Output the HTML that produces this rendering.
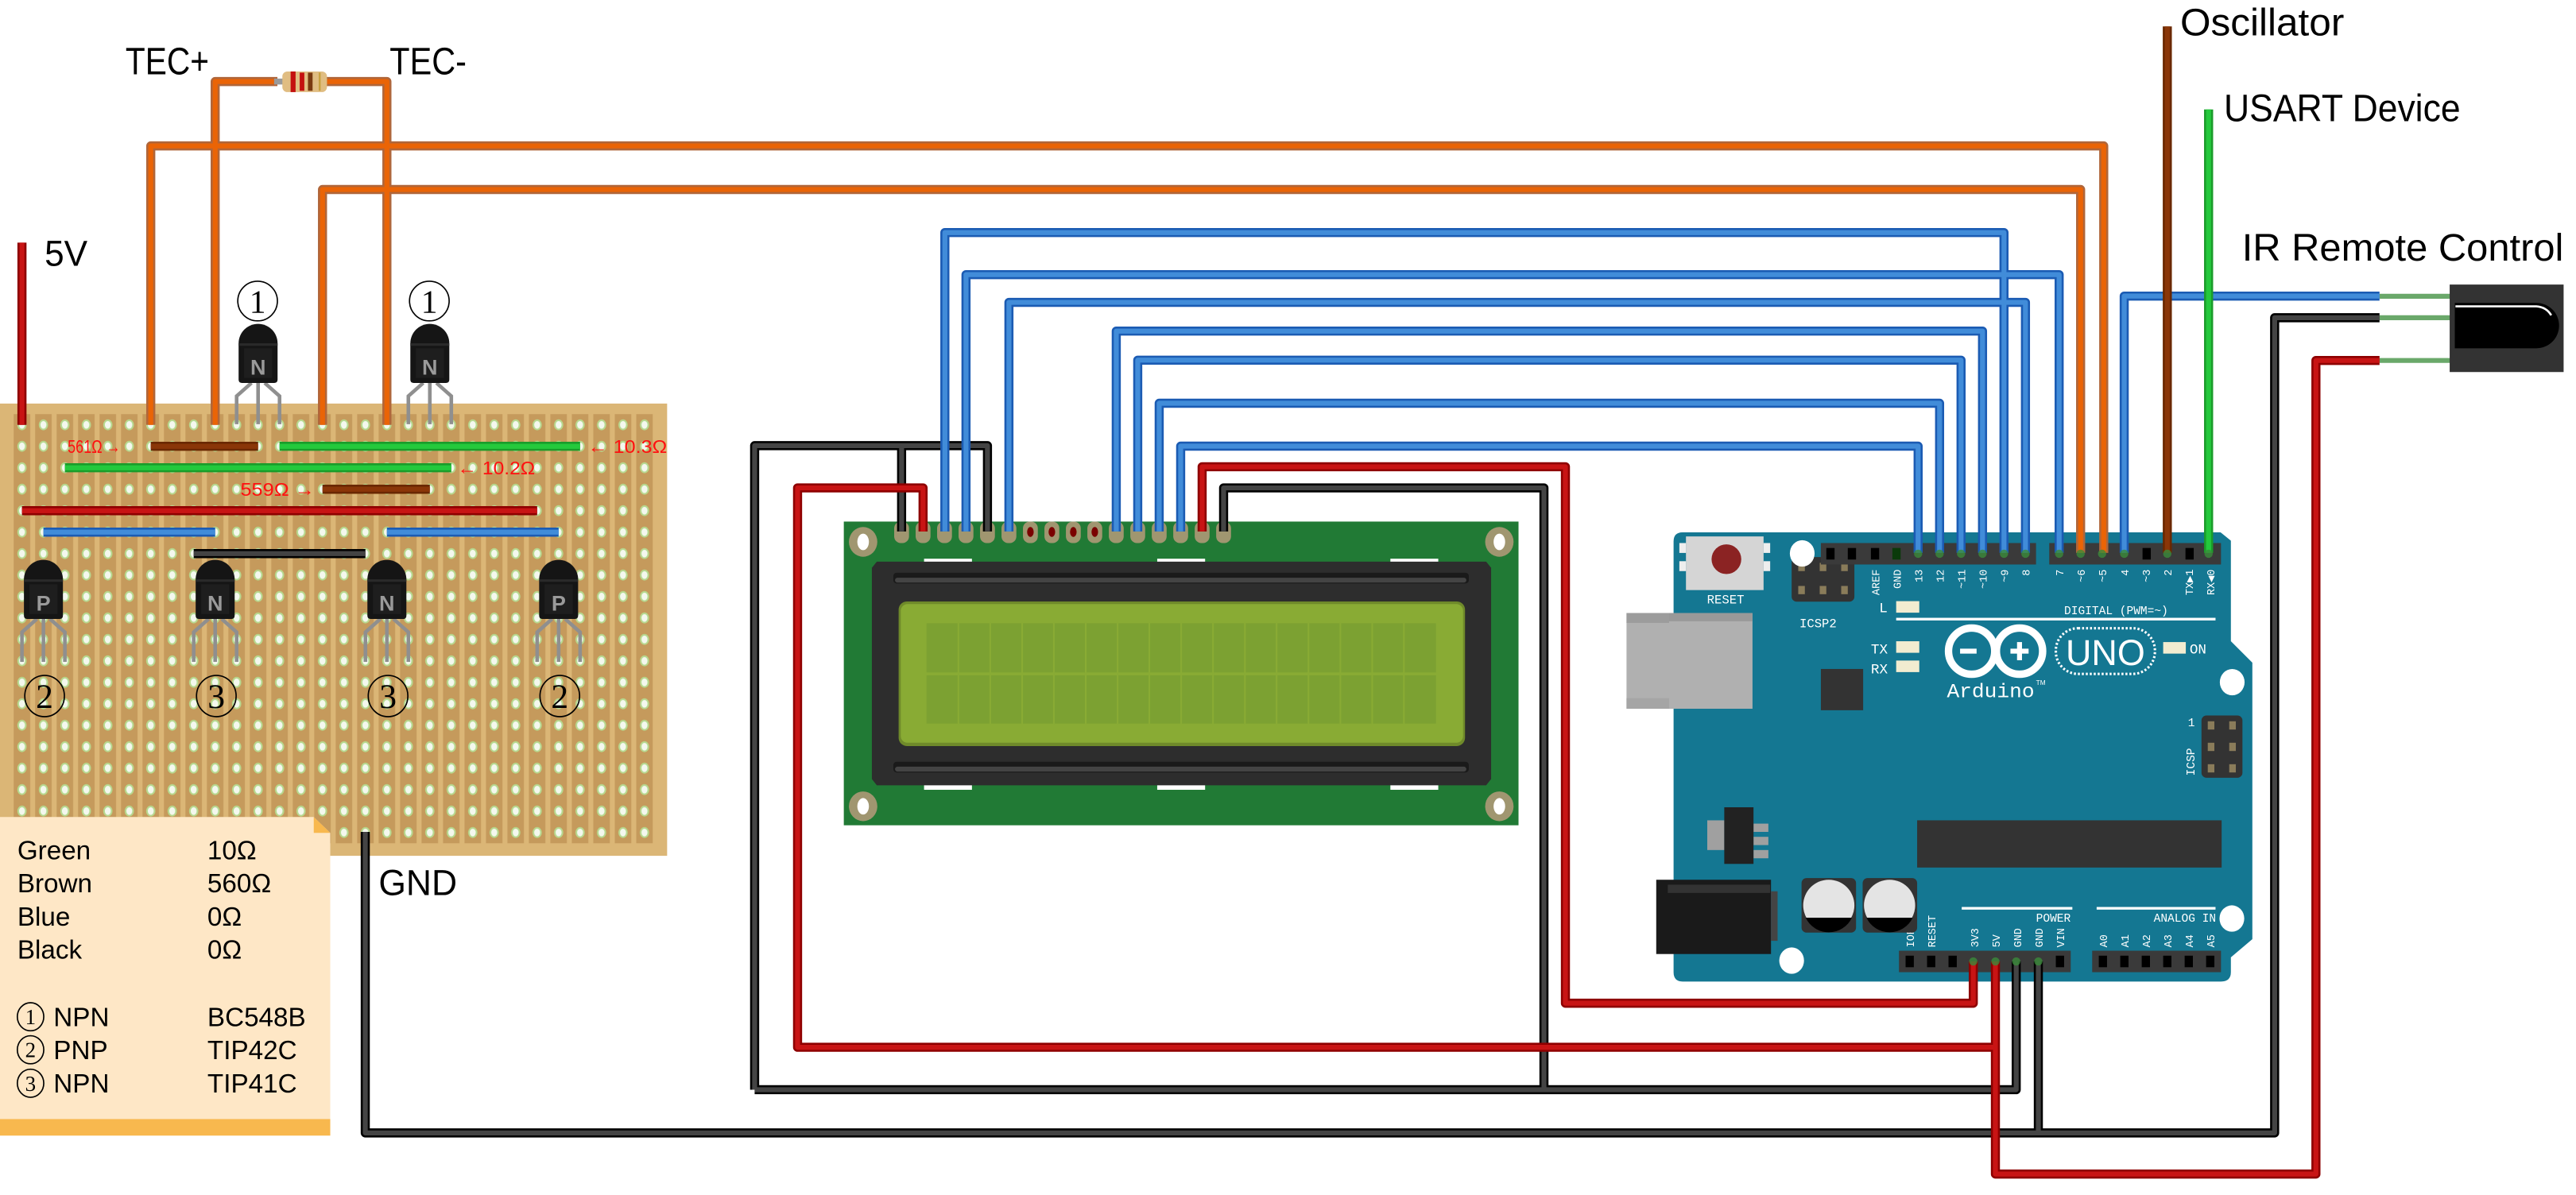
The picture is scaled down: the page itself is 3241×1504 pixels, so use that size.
<!DOCTYPE html>
<html><head><meta charset="utf-8"><style>html,body{margin:0;padding:0;background:#fff}svg{display:block}</style></head>
<body>
<svg width="3241" height="1504" viewBox="0 0 1560 724" preserveAspectRatio="none" xmlns="http://www.w3.org/2000/svg" font-family="Liberation Sans, DejaVu Sans, sans-serif">
<defs>
<pattern id="holes" patternUnits="userSpaceOnUse" x="6.8" y="250.9" width="13" height="13">
<rect x="1.5" y="0" width="10" height="13" fill="#c59a5c"/>
<ellipse cx="6.5" cy="6.5" rx="2.8" ry="3.3" fill="#b7d98f"/>
<ellipse cx="6.5" cy="6.5" rx="1.8" ry="2.3" fill="#f4f8ee"/>
</pattern>
<g id="wBlue" fill="none" stroke-linejoin="round">
<path d="M572.2,322 V140.9 H1213.6 V335"/>
<path d="M585,322 V166.4 H1247 V335"/>
<path d="M611,322 V183.2 H1226.6 V335"/>
<path d="M676,322 V200.6 H1200.6 V335"/>
<path d="M689,322 V218.2 H1187.6 V335"/>
<path d="M702,322 V244.3 H1174.6 V335"/>
<path d="M715,322 V270.3 H1161.6 V335"/>
<path d="M1286.4,335 V179.4 H1441"/>
<path d="M26.3,322.4 H130.3 M234.3,322.4 H338.3"/>
</g>
<g id="wOrange" fill="none" stroke-linejoin="round">
<path d="M91.3,257.4 V88.4 H1274 V335"/>
<path d="M195.3,257.4 V114.8 H1260 V335"/>
<path d="M130.3,257.4 V49.4 H168"/>
<path d="M197,49.4 H234.3 V257.4"/>
</g>
<g id="wRed" fill="none" stroke-linejoin="round">
<path d="M13.3,257.4 V147"/>
<path d="M559,322 V295.6 H483 V634.5 H1208.4"/>
<path d="M1208.4,582.5 V711.3 H1402.5 V218.4 H1441"/>
<path d="M728,322 V282.8 H948 V607.8 H1195 V582.5"/>
<path d="M13.3,309.4 H325.3"/>
</g>
<g id="wBlack" fill="none" stroke-linejoin="round">
<path d="M457,660.2 V270 H598 V322"/>
<path d="M546,270 V322"/>
<path d="M457,660.2 H1221 V582.5"/>
<path d="M741,322 V295.6 H935 V660.2"/>
<path d="M221.2,504 V686.4 H1377.5 V192.5 H1441"/>
<path d="M1234.4,582.5 V686.4"/>
<path d="M117.3,335.4 H221.3"/>
</g>
<g id="wGreen" fill="none">
<path d="M1337.5,335 V66.3"/>
<path d="M169.3,270.4 H351.3 M39.3,283.4 H273.3"/>
</g>
<g id="wBrown" fill="none">
<path d="M1312.5,335 V16"/>
<path d="M91.3,270.4 H156.3 M195.3,296.4 H260.3"/>
</g>
<g id="tr">
<path d="M-11.8,8 A11.8,11.8 0 0 1 11.8,8 V30 Q11.8,32 9.8,32 H-9.8 Q-11.8,32 -11.8,30 Z" fill="#151515"/>
<rect x="-11.8" y="8" width="23.6" height="1.5" fill="#2a2a2a"/>
<rect x="-8.5" y="11" width="17" height="18" fill="#1e1e1e"/>
</g>
<g id="legsDown" stroke="#8f8f8f" stroke-width="2.2" fill="none">
<path d="M-4,32 L-13,40 V58 M0,32 V58 M4,32 L13,40 V58"/>
</g>
</defs>

<rect x="0" y="244.5" width="404" height="274" fill="#dbb676"/>
<rect x="6.8" y="250.9" width="390" height="260" fill="url(#holes)"/>

<path d="M0,495 H190 L200,504.6 V688 H0 Z" fill="#fee7c6"/>
<path d="M190,495 L200,504.6 H190 Z" fill="#f8b84e"/>
<rect x="0" y="678" width="200" height="10" fill="#f8b84e"/>
<g font-size="16" fill="#000">
<text x="10.5" y="520.6">Green</text><text x="125.6" y="520.6">10Ω</text>
<text x="10.5" y="540.7">Brown</text><text x="125.6" y="540.7">560Ω</text>
<text x="10.5" y="560.8">Blue</text><text x="125.6" y="560.8">0Ω</text>
<text x="10.5" y="580.8">Black</text><text x="125.6" y="580.8">0Ω</text>
<text x="32.4" y="621.7">NPN</text><text x="125.6" y="621.7">BC548B</text>
<text x="32.4" y="641.8">PNP</text><text x="125.6" y="641.8">TIP42C</text>
<text x="32.4" y="662">NPN</text><text x="125.6" y="662">TIP41C</text>
</g>
<g fill="none" stroke="#000" stroke-width="0.8">
<ellipse cx="18.5" cy="616" rx="8" ry="8.5"/><ellipse cx="18.5" cy="636" rx="8" ry="8.5"/><ellipse cx="18.5" cy="656.3" rx="8" ry="8.5"/>
</g>
<g font-size="13" text-anchor="middle" font-family="Liberation Serif, serif"><text x="18.5" y="620.6">1</text><text x="18.5" y="640.6">2</text><text x="18.5" y="660.9">3</text></g>

<g><use href="#legsDown" x="26.3" y="343"/><use href="#tr" x="26.3" y="343"/></g>
<g><use href="#legsDown" x="130.3" y="343"/><use href="#tr" x="130.3" y="343"/></g>
<g><use href="#legsDown" x="234.3" y="343"/><use href="#tr" x="234.3" y="343"/></g>
<g><use href="#legsDown" x="338.3" y="343"/><use href="#tr" x="338.3" y="343"/></g>
<g font-size="13" font-weight="bold" fill="#9a9a9a" text-anchor="middle">
<text x="26.3" y="370">P</text><text x="130.3" y="370">N</text><text x="234.3" y="370">N</text><text x="338.3" y="370">P</text>
</g>
<g fill="none" stroke="#000" stroke-width="0.8">
<ellipse cx="27" cy="421.7" rx="12" ry="12.5"/><ellipse cx="131" cy="421.7" rx="12" ry="12.5"/><ellipse cx="235" cy="421.7" rx="12" ry="12.5"/><ellipse cx="339" cy="421.7" rx="12" ry="12.5"/>
</g>
<g font-size="21" text-anchor="middle" font-family="Liberation Serif, serif"><text x="27" y="429">2</text><text x="131" y="429">3</text><text x="235" y="429">3</text><text x="339" y="429">2</text></g>

<g stroke="#8f8f8f" stroke-width="2.2" fill="none">
<path d="M152.3,232 L143.3,240 V257 M156.3,232 V257 M160.3,232 L169.3,240 V257"/>
<path d="M256.3,232 L247.3,240 V257 M260.3,232 V257 M264.3,232 L273.3,240 V257"/>
</g>
<use href="#tr" x="156.3" y="200"/><use href="#tr" x="260.3" y="200"/>
<g font-size="13" font-weight="bold" fill="#9a9a9a" text-anchor="middle"><text x="156.3" y="227">N</text><text x="260.3" y="227">N</text></g>
<g fill="none" stroke="#000" stroke-width="0.8"><ellipse cx="156" cy="182.4" rx="12" ry="12"/><ellipse cx="260" cy="182.4" rx="12" ry="12"/></g>
<g font-size="20" text-anchor="middle" font-family="Liberation Serif, serif"><text x="156" y="189.5">1</text><text x="260" y="189.5">1</text></g>

<rect x="511" y="316" width="408.6" height="184" fill="#217a35"/>
<g fill="#a09670"><ellipse cx="522.7" cy="328.3" rx="8.6" ry="9"/><ellipse cx="908" cy="328.3" rx="8.6" ry="9"/><ellipse cx="522.7" cy="488.5" rx="8.6" ry="9"/><ellipse cx="908" cy="488.5" rx="8.6" ry="9"/></g>
<g fill="#fff"><ellipse cx="522.7" cy="328.3" rx="3.5" ry="5"/><ellipse cx="908" cy="328.3" rx="3.5" ry="5"/><ellipse cx="522.7" cy="488.5" rx="3.5" ry="5"/><ellipse cx="908" cy="488.5" rx="3.5" ry="5"/></g>
<g fill="#a09670">
<rect x="541.5" y="316" width="9" height="13" rx="4"/><rect x="554.5" y="316" width="9" height="13" rx="4"/><rect x="567.5" y="316" width="9" height="13" rx="4"/><rect x="580.5" y="316" width="9" height="13" rx="4"/>
<rect x="593.5" y="316" width="9" height="13" rx="4"/><rect x="606.5" y="316" width="9" height="13" rx="4"/><rect x="619.5" y="316" width="9" height="13" rx="4"/><rect x="632.5" y="316" width="9" height="13" rx="4"/>
<rect x="645.5" y="316" width="9" height="13" rx="4"/><rect x="658.5" y="316" width="9" height="13" rx="4"/><rect x="671.5" y="316" width="9" height="13" rx="4"/><rect x="684.5" y="316" width="9" height="13" rx="4"/>
<rect x="697.5" y="316" width="9" height="13" rx="4"/><rect x="710.5" y="316" width="9" height="13" rx="4"/><rect x="723.5" y="316" width="9" height="13" rx="4"/><rect x="736.5" y="316" width="9" height="13" rx="4"/>
</g>
<g fill="#7a0000"><ellipse cx="624" cy="322.3" rx="2" ry="3"/><ellipse cx="637" cy="322.3" rx="2" ry="3"/><ellipse cx="650" cy="322.3" rx="2" ry="3"/><ellipse cx="663" cy="322.3" rx="2" ry="3"/></g>
<g fill="#fff"><rect x="559.6" y="338.5" width="29" height="3"/><rect x="700.8" y="338.5" width="29" height="3"/><rect x="842" y="338.5" width="29" height="3"/>
<rect x="559.6" y="475.5" width="29" height="3"/><rect x="700.8" y="475.5" width="29" height="3"/><rect x="842" y="475.5" width="29" height="3"/></g>
<path d="M531,340.3 H900 L903,344 V472 L900,475.8 H531 L528,472 V344 Z" fill="#2d2d2d"/>
<rect x="541" y="347" width="348.5" height="6.5" rx="2" fill="#1a1a1a"/><rect x="542" y="350" width="346" height="3" rx="1.5" fill="#444"/>
<rect x="541" y="461.5" width="348.5" height="6.5" rx="2" fill="#1a1a1a"/><rect x="542" y="464.5" width="346" height="3" rx="1.5" fill="#444"/>
<rect x="544.2" y="364.4" width="343" height="87.6" rx="5" fill="#6f8a2a"/>
<rect x="545.5" y="366" width="340.5" height="84" rx="4" fill="#89ab34"/>
<g fill="#7ca132">
<rect x="561.1" y="377.6" width="308.5" height="29.8"/><rect x="561.1" y="409.1" width="308.5" height="29.3"/>
</g>
<g stroke="#89ab34" stroke-width="1">
<path d="M580.4,377 V439 M599.7,377 V439 M619,377 V439 M638.2,377 V439 M657.5,377 V439 M676.8,377 V439 M696,377 V439 M715.3,377 V439 M734.6,377 V439 M753.9,377 V439 M773.1,377 V439 M792.4,377 V439 M811.7,377 V439 M831,377 V439 M850.2,377 V439"/>
</g>

<rect x="985" y="371.4" width="76.3" height="58" fill="#b0b0b0"/>
<rect x="985" y="371.4" width="76.3" height="6" fill="#9c9c9c"/>
<rect x="985" y="423" width="76.3" height="6.4" fill="#a5a5a5"/>
<path d="M1019,322.5 H1344.7 L1351,327.6 V388.5 L1364,401.5 V569 L1351,580 V589 Q1351,594.7 1345,594.7 H1019 Q1013.5,594.7 1013.5,589 V328 Q1013.5,322.5 1019,322.5 Z" fill="#147792"/>
<rect x="1010.8" y="371.4" width="50.5" height="58" fill="#b0b0b0"/>
<rect x="1010.8" y="371.4" width="50.5" height="5" fill="#999"/>
<rect x="1021" y="325" width="47" height="32.5" fill="#d5d5d5"/>
<rect x="1017" y="329" width="4" height="6" fill="#eee"/><rect x="1017" y="340" width="4" height="6" fill="#eee"/><rect x="1068" y="329" width="4" height="6" fill="#eee"/><rect x="1068" y="340" width="4" height="6" fill="#eee"/>
<circle cx="1045.5" cy="338.8" r="9" fill="#8b2323"/>
<text x="1045" y="365.5" font-size="7.5" fill="#fff" text-anchor="middle" font-family="Liberation Mono, monospace">RESET</text>
<rect x="1085" y="337.5" width="38" height="27" rx="3" fill="#333"/>
<g fill="#8a7c5a"><rect x="1089" y="341" width="4" height="5"/><rect x="1102" y="341" width="4" height="5"/><rect x="1115" y="341" width="4" height="5"/><rect x="1089" y="355" width="4" height="5"/><rect x="1102" y="355" width="4" height="5"/><rect x="1115" y="355" width="4" height="5"/></g>
<text x="1101" y="380" font-size="7.5" fill="#fff" text-anchor="middle" font-family="Liberation Mono, monospace">ICSP2</text>
<g fill="#fff"><ellipse cx="1091.4" cy="335.3" rx="7.5" ry="8"/><ellipse cx="1351.8" cy="413.3" rx="7.5" ry="8"/><ellipse cx="1351.6" cy="556.5" rx="7.5" ry="8"/><ellipse cx="1085" cy="582" rx="7.5" ry="8"/></g>
<rect x="1102.7" y="329" width="130.3" height="13" fill="#3a3a3a"/>
<rect x="1241" y="329" width="104" height="13" fill="#3a3a3a"/>
<rect x="1150" y="576" width="104" height="13" fill="#3a3a3a"/>
<rect x="1267" y="576" width="78" height="13" fill="#3a3a3a"/>
<g fill="#000">
<rect x="1106" y="332" width="5" height="7"/><rect x="1119" y="332" width="5" height="7"/><rect x="1133" y="332" width="5" height="7"/><rect x="1146" y="332" width="5" height="7" fill="#0a3a0a"/>
<rect x="1297.5" y="332" width="5" height="7"/><rect x="1323.5" y="332" width="5" height="7"/>
<rect x="1154" y="579" width="5" height="7"/><rect x="1167" y="579" width="5" height="7"/><rect x="1180" y="579" width="5" height="7"/><rect x="1245" y="579" width="5" height="7"/>
<rect x="1271" y="579" width="5" height="7"/><rect x="1284" y="579" width="5" height="7"/><rect x="1297" y="579" width="5" height="7"/><rect x="1310" y="579" width="5" height="7"/><rect x="1323" y="579" width="5" height="7"/><rect x="1336" y="579" width="5" height="7"/>
</g>
<g font-size="6.5" fill="#fff" font-family="Liberation Mono, monospace" text-anchor="end">
<text transform="translate(1138,345) rotate(-90)">AREF</text>
<text transform="translate(1151,345) rotate(-90)">GND</text>
<text transform="translate(1164,345) rotate(-90)">13</text>
<text transform="translate(1177,345) rotate(-90)">12</text>
<text transform="translate(1190,345) rotate(-90)">~11</text>
<text transform="translate(1203,345) rotate(-90)">~10</text>
<text transform="translate(1216,345) rotate(-90)">~9</text>
<text transform="translate(1229,345) rotate(-90)">8</text>
<text transform="translate(1249.5,345) rotate(-90)">7</text>
<text transform="translate(1262.5,345) rotate(-90)">~6</text>
<text transform="translate(1275.5,345) rotate(-90)">~5</text>
<text transform="translate(1289,345) rotate(-90)">4</text>
<text transform="translate(1302,345) rotate(-90)">~3</text>
<text transform="translate(1315,345) rotate(-90)">2</text>
<text transform="translate(1328,345) rotate(-90)">TX▶1</text>
<text transform="translate(1341,345) rotate(-90)">RX◀0</text>
</g>
<g font-size="6.5" fill="#fff" font-family="Liberation Mono, monospace" text-anchor="start">
<text transform="translate(1159,574) rotate(-90)">IOREF</text>
<text transform="translate(1172,574) rotate(-90)">RESET</text>
<text transform="translate(1198,574) rotate(-90)">3V3</text>
<text transform="translate(1211,574) rotate(-90)">5V</text>
<text transform="translate(1224,574) rotate(-90)">GND</text>
<text transform="translate(1237,574) rotate(-90)">GND</text>
<text transform="translate(1250,574) rotate(-90)">VIN</text>
<text transform="translate(1276,574) rotate(-90)">A0</text>
<text transform="translate(1289,574) rotate(-90)">A1</text>
<text transform="translate(1302,574) rotate(-90)">A2</text>
<text transform="translate(1315,574) rotate(-90)">A3</text>
<text transform="translate(1328,574) rotate(-90)">A4</text>
<text transform="translate(1341,574) rotate(-90)">A5</text>
</g>
<text x="1313" y="372" font-size="7" fill="#fff" text-anchor="end" font-family="Liberation Mono, monospace">DIGITAL (PWM=~)</text>
<rect x="1148.3" y="374.3" width="193.4" height="1.6" fill="#fff"/>
<text x="1254" y="558.5" font-size="7" fill="#fff" text-anchor="end" font-family="Liberation Mono, monospace">POWER</text>
<text x="1342" y="558.5" font-size="7" fill="#fff" text-anchor="end" font-family="Liberation Mono, monospace">ANALOG IN</text>
<rect x="1188" y="549.5" width="67" height="1.6" fill="#fff"/><rect x="1269.7" y="549.5" width="72" height="1.6" fill="#fff"/>
<g fill="#f2ecd0"><rect x="1148.3" y="364.2" width="14" height="7"/><rect x="1148.3" y="388.5" width="14" height="7"/><rect x="1148.3" y="400.2" width="14" height="7"/><rect x="1310" y="389" width="13.7" height="7"/></g>
<g font-size="8.5" fill="#fff" font-family="Liberation Mono, monospace"><text x="1138" y="371">L</text><text x="1133" y="396">TX</text><text x="1133" y="408">RX</text><text x="1326" y="396">ON</text></g>
<rect x="1102.7" y="405.3" width="25.6" height="25" fill="#333"/>
<g fill="none" stroke="#fff" stroke-width="4.5"><circle cx="1194" cy="394.5" r="14"/><circle cx="1223" cy="394.5" r="14"/></g>
<g fill="#fff"><rect x="1187" y="393" width="10" height="3"/><rect x="1217.5" y="393" width="11" height="3"/><rect x="1221.5" y="389" width="3" height="11"/></g>
<rect x="1245" y="380.6" width="60" height="27.7" rx="13.5" fill="none" stroke="#fff" stroke-width="1.5" stroke-dasharray="1.2 1.2"/>
<text x="1275" y="403" font-size="22" fill="#fff" text-anchor="middle" textLength="48" lengthAdjust="spacingAndGlyphs">UNO</text>
<text x="1179" y="422.5" font-size="12" fill="#fff" font-family="Liberation Mono, monospace" textLength="53" lengthAdjust="spacingAndGlyphs">Arduino</text>
<text x="1233" y="415" font-size="4" fill="#fff">TM</text>
<rect x="1333.2" y="433.5" width="24.8" height="37.7" rx="3" fill="#333"/>
<g fill="#8a7c5a"><rect x="1337" y="437" width="4" height="5"/><rect x="1350" y="437" width="4" height="5"/><rect x="1337" y="450" width="4" height="5"/><rect x="1350" y="450" width="4" height="5"/><rect x="1337" y="463" width="4" height="5"/><rect x="1350" y="463" width="4" height="5"/></g>
<text transform="translate(1329,470) rotate(-90)" font-size="7" fill="#fff" font-family="Liberation Mono, monospace">ICSP</text>
<text x="1325" y="440" font-size="7" fill="#fff" font-family="Liberation Mono, monospace">1</text>
<rect x="1161" y="497" width="184.4" height="28.6" fill="#333"/>
<rect x="1033.9" y="497" width="10.3" height="18" fill="#a0a0a0"/>
<g fill="#a0a0a0"><rect x="1061.9" y="499" width="9" height="5"/><rect x="1061.9" y="507" width="9" height="5"/><rect x="1061.9" y="515" width="9" height="5"/></g>
<rect x="1044.2" y="489.1" width="17.7" height="34.3" fill="#222"/>
<rect x="1003" y="533" width="69.5" height="45" fill="#1a1a1a"/>
<rect x="1010" y="536" width="62" height="5" fill="#333"/>
<rect x="1072.5" y="540" width="4" height="30" fill="#444"/>
<rect x="1091" y="532" width="33" height="33" rx="3" fill="#333"/><rect x="1128" y="532" width="33" height="33" rx="3" fill="#333"/>
<circle cx="1107.5" cy="548.5" r="15.5" fill="#e4e4e4"/><circle cx="1144.3" cy="548.5" r="15.5" fill="#e4e4e4"/>
<path d="M1093.5,556 H1121.5 A15.5,15.5 0 0 1 1093.5,556 Z" fill="#000"/>
<path d="M1130.3,556 H1158.3 A15.5,15.5 0 0 1 1130.3,556 Z" fill="#000"/>

<g stroke="#6aa86a" stroke-width="3"><path d="M1441,179.5 H1484 M1441,192.5 H1484 M1441,218.4 H1484"/></g>
<rect x="1483.5" y="172.4" width="69" height="53" fill="#333"/>
<path d="M1486.6,183.5 H1536 A13.7,13.7 0 0 1 1536,211 H1486.6 Z" fill="#000"/>
<path d="M1487,185.6 H1536 Q1542,186 1545,191" stroke="#fff" stroke-width="1.3" fill="none"/>

<use href="#wBlack" stroke="#000" stroke-width="5.5"/><use href="#wBlack" stroke="#444" stroke-width="3"/>
<use href="#wRed" stroke="#8e0000" stroke-width="5.5"/><use href="#wRed" stroke="#c81414" stroke-width="3"/>
<use href="#wBlue" stroke="#1b5bb3" stroke-width="5.5"/><use href="#wBlue" stroke="#418cd9" stroke-width="3"/>
<use href="#wOrange" stroke="#b0663a" stroke-width="5.5"/><use href="#wOrange" stroke="#ea6406" stroke-width="3"/>
<use href="#wGreen" stroke="#1a9c2a" stroke-width="5.5"/><use href="#wGreen" stroke="#24c93c" stroke-width="3"/>
<use href="#wBrown" stroke="#6a2800" stroke-width="5.5"/><use href="#wBrown" stroke="#8a3608" stroke-width="3"/>
<rect x="166" y="47.6" width="32" height="3.6" fill="#9a9a9a"/>
<rect x="171" y="43.3" width="27" height="12.5" rx="3" fill="#e0bd82"/>
<g fill="#c41010"><rect x="176" y="43.3" width="3" height="12.5"/><rect x="181.5" y="44" width="2.8" height="11"/></g>
<rect x="186.5" y="44" width="2.8" height="11" fill="#7a3a10"/><rect x="193" y="44" width="1.2" height="11" fill="#c8a040"/>
<g fill="#3a8a3a" opacity="0.8">
<circle cx="1161.6" cy="335.5" r="2.5"/><circle cx="1174.6" cy="335.5" r="2.5"/><circle cx="1187.6" cy="335.5" r="2.5"/><circle cx="1200.6" cy="335.5" r="2.5"/><circle cx="1213.6" cy="335.5" r="2.5"/><circle cx="1226.6" cy="335.5" r="2.5"/>
<circle cx="1247" cy="335.5" r="2.5"/><circle cx="1260" cy="335.5" r="2.5"/><circle cx="1273" cy="335.5" r="2.5"/><circle cx="1286.4" cy="335.5" r="2.5"/><circle cx="1312.5" cy="335.5" r="2.5"/><circle cx="1337.5" cy="335.5" r="2.5"/>
<circle cx="1195" cy="582.5" r="2.5"/><circle cx="1208.4" cy="582.5" r="2.5"/><circle cx="1221" cy="582.5" r="2.5"/><circle cx="1234.4" cy="582.5" r="2.5"/>
</g>

<g fill="#000" font-size="23">
<text x="76" y="45" textLength="50.6" lengthAdjust="spacingAndGlyphs">TEC+</text>
<text x="236" y="45" textLength="46.5" lengthAdjust="spacingAndGlyphs">TEC-</text>
<text x="27" y="161" font-size="22" textLength="26" lengthAdjust="spacingAndGlyphs">5V</text>
<text x="229.3" y="542.3" font-size="22" textLength="47.5" lengthAdjust="spacingAndGlyphs">GND</text>
<text x="1320.3" y="21.4" textLength="99.3" lengthAdjust="spacingAndGlyphs">Oscillator</text>
<text x="1346.8" y="73.4" textLength="143.2" lengthAdjust="spacingAndGlyphs">USART Device</text>
<text x="1357.7" y="158" textLength="194.8" lengthAdjust="spacingAndGlyphs">IR Remote Control</text>
</g>
<g fill="#ff1010" font-size="11">
<text x="41" y="274.4" textLength="32" lengthAdjust="spacingAndGlyphs">561Ω →</text>
<text x="356" y="274.4" textLength="48" lengthAdjust="spacingAndGlyphs">← 10.3Ω</text>
<text x="277" y="287.4" textLength="47" lengthAdjust="spacingAndGlyphs">← 10.2Ω</text>
<text x="145.6" y="300.4" textLength="45" lengthAdjust="spacingAndGlyphs">559Ω →</text>
</g>
</svg>
</body></html>
